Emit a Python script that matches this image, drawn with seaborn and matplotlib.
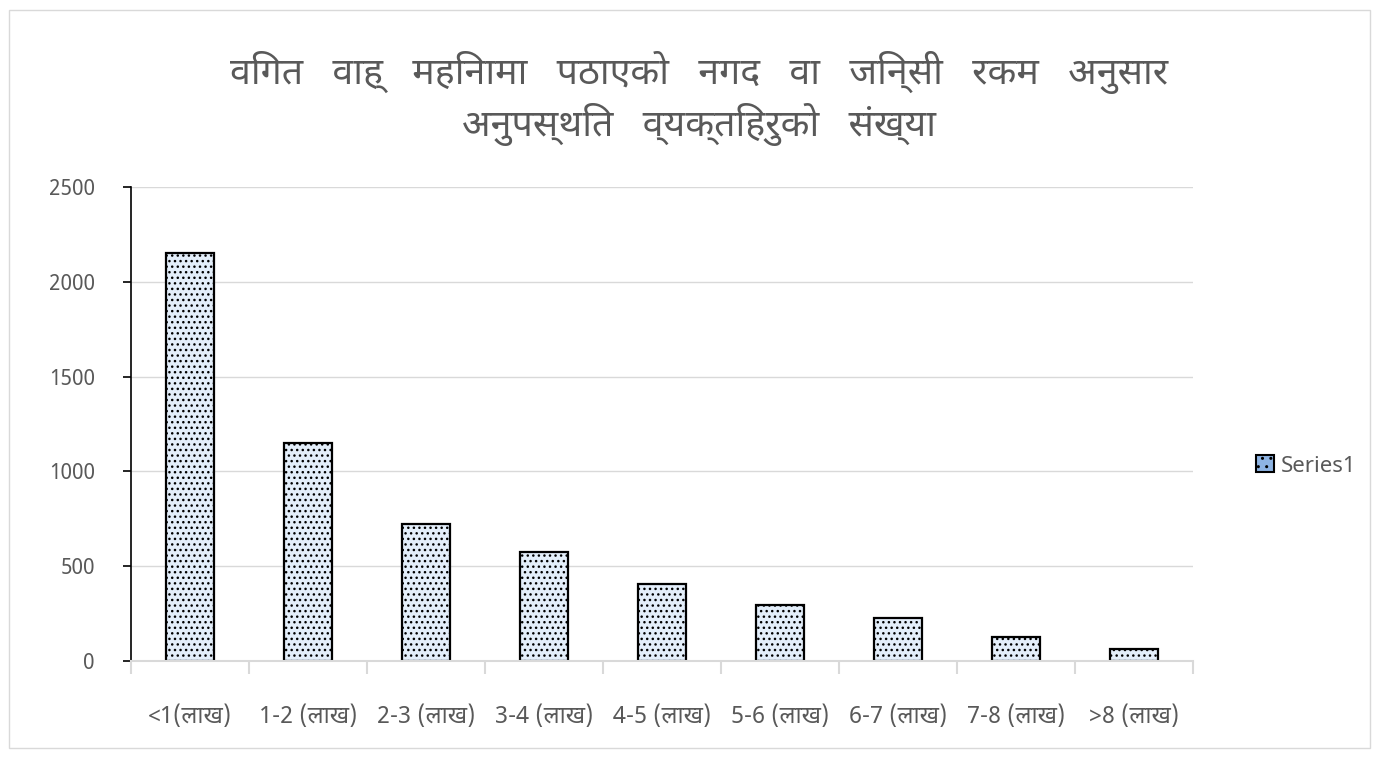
import numpy as np
import seaborn as sns
import matplotlib.pyplot as plt
from matplotlib.patches import Rectangle, Patch

# Data
categories = ['<1(लाख)', '1-2 (लाख)', '2-3 (लाख)', '3-4 (लाख)', '4-5 (लाख)',
              '5-6 (लाख)', '6-7 (लाख)', '7-8 (लाख)', '>8 (लाख)']
counts = [2152, 1150, 723, 575, 406, 295, 227, 127, 63]
title_lines = ['विगत   वाह्   महिनामा   पठाएको   नगद   वा   जिन्सी   रकम   अनुसार',
               'अनुपस्थित   व्यक्तिहरुको   संख्या']
series_name = 'Series1'

sns.set_style('white')
plt.rcParams['font.family'] = ['Noto Sans Devanagari', 'DejaVu Sans']
plt.rcParams['hatch.linewidth'] = 1.0

grey = '#595959'

fig = plt.figure(figsize=(13.79, 7.72), dpi=100)
ax = fig.add_axes([131 / 1379, 1 - 661 / 772, (1193 - 131) / 1379, (661 - 187) / 772])

sns.barplot(x=categories, y=counts, ax=ax, width=0.41, color='#e3eefa',
            edgecolor='black', linewidth=1.6, saturation=1)
for bar in ax.patches:
    bar.set_hatch('...')

ax.set_ylim(0, 2500)
ax.set_yticks(np.arange(0, 2501, 500))
ax.set_xlim(-0.5, len(categories) - 0.5)
ax.yaxis.grid(True, color='#d9d9d9', linewidth=1)
ax.set_axisbelow(True)

for s in ['top', 'right']:
    ax.spines[s].set_visible(False)
ax.spines['left'].set_color('black')
ax.spines['left'].set_linewidth(1.2)
ax.spines['bottom'].set_color('#d9d9d9')
ax.spines['bottom'].set_linewidth(1.5)

ax.tick_params(axis='y', left=True, length=6, width=1.2, color='black',
               labelsize=15, labelcolor=grey, pad=20)
ax.tick_params(axis='x', which='major', length=0, labelsize=17,
               labelcolor=grey, pad=32)
ax.set_xticks(np.arange(-0.5, len(categories), 1), minor=True)
ax.tick_params(axis='x', which='minor', bottom=True, length=9, width=1.5,
               color='#d9d9d9')

fig.text(0.507, 1 - 72 / 772, title_lines[0], ha='center', va='center',
         fontsize=27, color=grey)
fig.text(0.507, 1 - 124 / 772, title_lines[1], ha='center', va='center',
         fontsize=27, color=grey)

handle = Patch(facecolor='#8eb4e3', edgecolor='black', hatch='..', linewidth=1.5)
fig.legend([handle], [series_name], loc='center left',
           bbox_to_anchor=(1236 / 1379, 1 - 466 / 772), frameon=False,
           fontsize=16, labelcolor=grey, handlelength=0.8, handleheight=0.8,
           handletextpad=0.3)

fig.patches.append(Rectangle((9 / 1379, 1 - 748 / 772), 1361 / 1379, 738 / 772,
                             transform=fig.transFigure, fill=False,
                             edgecolor='#d9d9d9', linewidth=1))

fig.savefig('out.png', dpi=100)
